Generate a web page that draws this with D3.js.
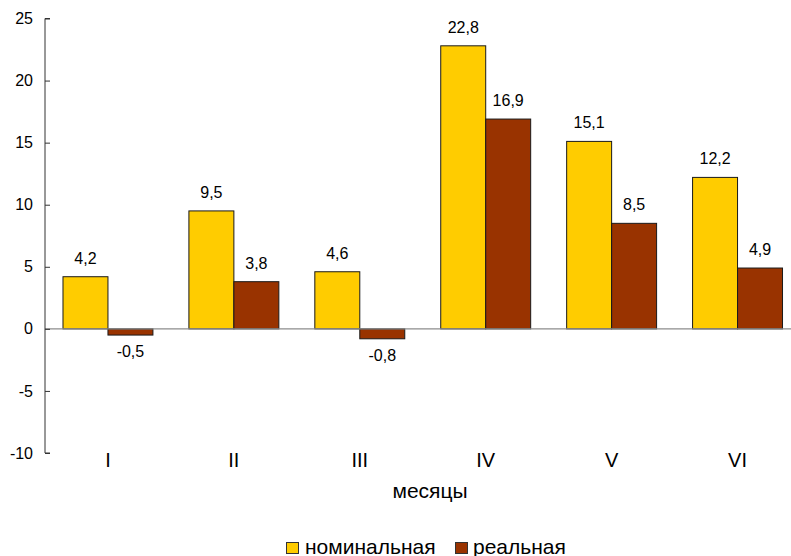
<!DOCTYPE html>
<html>
<head>
<meta charset="utf-8">
<script src="https://cdn.jsdelivr.net/npm/d3@7"></script>
<style>
  html, body { margin: 0; padding: 0; background: #fff; }
  svg { display: block; font-family: "Liberation Sans", Arial, sans-serif; }
</style>
</head>
<body>
<svg id="chart" width="791" height="556"></svg>
<script>
const months = ["I", "II", "III", "IV", "V", "VI"];
const nominal = [4.2, 9.5, 4.6, 22.8, 15.1, 12.2];
const real = [-0.5, 3.8, -0.8, 16.9, 8.5, 4.9];
const seriesNames = ["номинальная", "реальная"];
const seriesColors = ["#FFCC00", "#993300"];
const yTicks = [-10, -5, 0, 5, 10, 15, 20, 25];
const xTitle = "месяцы";

(function () {
const svg = d3.select("#chart");
const pL = 45, pR = 800.5, pT = 18.5, pB = 453;

const y = d3.scaleLinear().domain([-10, 25]).range([pB, pT]);
const x0 = d3.scaleBand().domain(months).range([pL, pR]).padding(0);
const band = x0.bandwidth();
const bw = band / 2.8;
const x1 = d3.scaleBand().domain(seriesNames).range([bw * 0.4, band - bw * 0.4]).padding(0);

const data = months.map((m, i) => ({ m, vals: [nominal[i], real[i]] }));

// bars
const g = svg.append("g");
data.forEach(d => {
  d.vals.forEach((v, j) => {
    const xx = x0(d.m) + x1(seriesNames[j]);
    g.append("rect")
      .attr("x", xx)
      .attr("width", x1.bandwidth())
      .attr("y", y(Math.max(0, v)))
      .attr("height", Math.abs(y(v) - y(0)))
      .attr("fill", seriesColors[j])
      .attr("stroke", "#1a1a1a")
      .attr("stroke-width", 1);
    g.append("text")
      .attr("x", xx + x1.bandwidth() / 2)
      .attr("y", v >= 0 ? y(v) - 13 : y(v) + 22)
      .attr("text-anchor", "middle")
      .attr("font-size", "16px")
      .attr("fill", "#000")
      .text(String(v).replace(".", ","));
  });
});

// zero line
svg.append("line")
  .attr("x1", pL).attr("x2", 791)
  .attr("y1", y(0)).attr("y2", y(0))
  .attr("stroke", "#8c8c8c").attr("stroke-width", 1.2);

// y axis
const yAxis = d3.axisRight(y).tickValues(yTicks).tickSize(5).tickFormat(d => d);
const ya = svg.append("g").attr("transform", `translate(${pL},0)`).call(yAxis);
ya.select(".domain").attr("stroke", "#333").attr("d", `M5,${pT}H0V${pB}H5`);
ya.selectAll(".tick line").attr("stroke", "#333");
ya.selectAll(".tick text")
  .attr("x", -12)
  .attr("text-anchor", "end")
  .attr("font-size", "16px")
  .attr("font-family", "'Liberation Sans', Arial, sans-serif")
  .attr("fill", "#000");

// x category labels
svg.append("g").selectAll("text")
  .data(months).join("text")
  .attr("x", d => x0(d) + band / 2)
  .attr("y", 466.5)
  .attr("text-anchor", "middle")
  .attr("font-size", "20px")
  .attr("fill", "#000")
  .text(d => d);

// x title
svg.append("text")
  .attr("x", 430).attr("y", 497.5)
  .attr("text-anchor", "middle")
  .attr("font-size", "21px")
  .attr("fill", "#000")
  .text(xTitle);

// legend
const legendItems = [
  { name: seriesNames[0], color: seriesColors[0], bx: 286, tx: 305 },
  { name: seriesNames[1], color: seriesColors[1], bx: 455, tx: 473 }
];
const lg = svg.append("g");
legendItems.forEach(it => {
  lg.append("rect")
    .attr("x", it.bx + 0.5).attr("y", 542.5)
    .attr("width", 12).attr("height", 11)
    .attr("fill", it.color).attr("stroke", "#333").attr("stroke-width", 1);
  lg.append("text")
    .attr("x", it.tx).attr("y", 553.5)
    .attr("font-size", "21px")
    .attr("fill", "#000")
    .text(it.name);
});
})();
</script>
</body>
</html>
